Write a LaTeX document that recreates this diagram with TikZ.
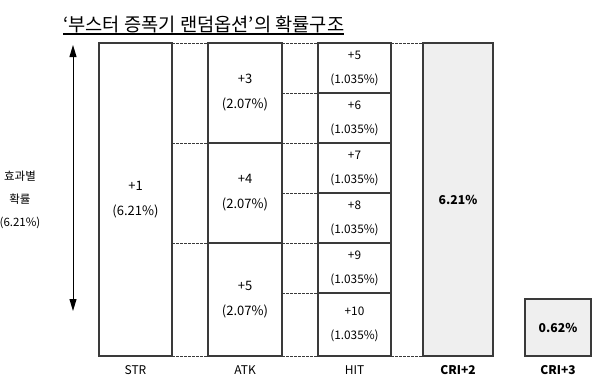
\documentclass[tikz,border=0pt]{standalone}
\usepackage{fontspec}
\setmainfont{Noto Sans CJK KR}
\usetikzlibrary{arrows.meta,positioning}
\definecolor{lineg}{HTML}{3A3A3A}
\definecolor{crigray}{HTML}{EFEFEF}

\begin{document}
\begin{tikzpicture}[x=1pt,y=-1pt,
    cell/.style={draw=lineg,line width=1.1pt,inner sep=0pt,outer sep=0pt,align=center,
                 font=\fontsize{13}{25}\selectfont},
    hitcell/.style={cell,minimum width=73pt,font=\fontsize{11.8}{24}\selectfont},
    cricell/.style={cell,fill=crigray,font=\fontsize{12.2}{25}\selectfont\bfseries},
    axis/.style={inner sep=0pt,font=\fontsize{12}{14}\selectfont},
    link/.style={draw=lineg,line width=0.9pt,dash pattern=on 2.5pt off 1.5pt}]
    \useasboundingbox (0,0) rectangle (600,388);

    % title
    \node[anchor=base west,inner sep=0pt,font=\fontsize{18.7}{20}\selectfont] (title) at (63,31)
        {‘부스터 증폭기 랜덤옵션’의 확률구조};
    \draw[line width=1.4pt] ([yshift=-3pt]title.base west) -- ([yshift=-3pt]title.base east);

    % probability axis
    \coordinate (atop) at (73,45);
    \coordinate (abot) at (73,311);
    \draw[line width=1pt,{Triangle[length=12pt,width=7pt]}-{Triangle[length=12pt,width=7pt]}] (atop) -- (abot);
    \node[align=center,inner sep=0pt,font=\fontsize{11.5}{23}\selectfont] (eff) at (20,200) {효과별\\확률\\(6.21\%)};

    % STR
    \node[cell,minimum width=73pt,minimum height=313pt] (str) at (135.5,199.5) {+1\\(6.21\%)};

    % ATK
    \node[cell,minimum width=74pt,minimum height=100pt] (atk1) at (245,93) {+3\\(2.07\%)};
    \node[cell,minimum width=74pt,minimum height=100pt] (atk2) [below=0pt of atk1] {+4\\(2.07\%)};
    \node[cell,minimum width=74pt,minimum height=113pt] (atk3) [below=0pt of atk2] {+5\\(2.07\%)};

    % HIT
    \node[hitcell,minimum height=50pt] (hit1) at (354.5,68) {+5\\(1.035\%)};
    \node[hitcell,minimum height=50pt] (hit2) [below=0pt of hit1] {+6\\(1.035\%)};
    \node[hitcell,minimum height=50pt] (hit3) [below=0pt of hit2] {+7\\(1.035\%)};
    \node[hitcell,minimum height=50pt] (hit4) [below=0pt of hit3] {+8\\(1.035\%)};
    \node[hitcell,minimum height=50pt] (hit5) [below=0pt of hit4] {+9\\(1.035\%)};
    \node[hitcell,minimum height=63pt] (hit6) [below=0pt of hit5] {+10\\(1.035\%)};

    % CRI
    \node[cricell,minimum width=70pt,minimum height=313pt] (cri2) at (458,199.5) {6.21\%};
    \node[cricell,minimum width=66pt,minimum height=57pt] (cri3) at (558,327.5) {0.62\%};

    % dotted links
    \foreach \a in {atk1,atk2,atk3}
        \draw[link] (str.east |- \a.north) -- (\a.north west);
    \draw[link] (str.south east) -- (atk3.south west);
    \foreach \h in {hit1,hit2,hit3,hit4,hit5,hit6}
        \draw[link] (atk1.east |- \h.north) -- (\h.north west);
    \draw[link] (atk3.south east) -- (hit6.south west);
    \draw[link] (hit1.north east) -- (cri2.north west);
    \draw[link] (hit6.south east) -- (cri2.south west);

    % column labels
    \node[axis] (lstr) [below=9pt of str] {STR};
    \node[axis] (latk) [below=9pt of atk3] {ATK};
    \node[axis] (lhit) [below=9pt of hit6] {HIT};
    \node[axis,font=\fontsize{12}{14}\selectfont\bfseries] (lcri2) [below=9pt of cri2] {CRI+2};
    \node[axis,font=\fontsize{12}{14}\selectfont\bfseries] (lcri3) [below=9pt of cri3] {CRI+3};
\end{tikzpicture}
\end{document}
